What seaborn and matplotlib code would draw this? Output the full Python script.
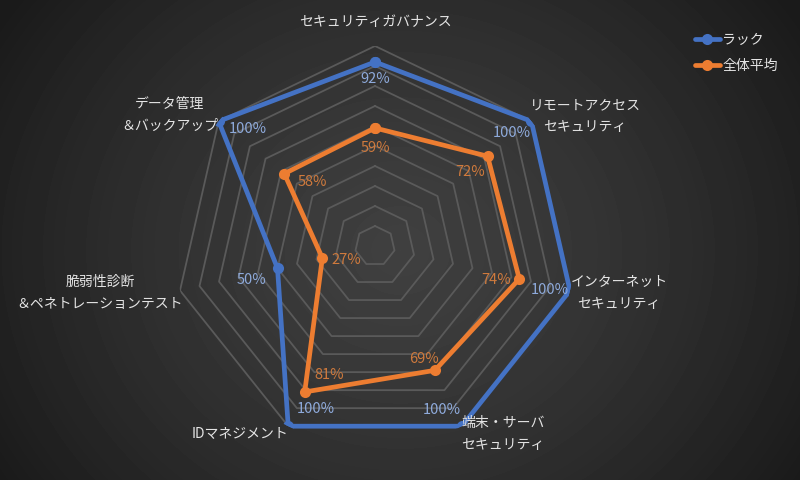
import numpy as np
import pandas as pd
import matplotlib
matplotlib.use("Agg")
import matplotlib.pyplot as plt
from matplotlib.lines import Line2D
import seaborn as sns

# ---- data ----
categories = [
    "セキュリティガバナンス",
    "リモートアクセス\nセキュリティ",
    "インターネット\nセキュリティ",
    "端末・サーバ\nセキュリティ",
    "IDマネジメント",
    "脆弱性診断\n＆ペネトレーションテスト",
    "データ管理\n＆バックアップ",
]
series_names = ["ラック", "全体平均"]
lac_values = [92, 100, 100, 100, 100, 50, 100]
avg_values = [59, 72, 74, 69, 81, 27, 58]
grid_levels = [10, 20, 30, 40, 50, 60, 70, 80, 90, 100]

# ---- style ----
BLUE = "#4472c4"
ORANGE = "#ed7d31"
BLUE_LABEL = "#8eaadb"
ORANGE_LABEL = "#cf7a3d"
TEXT = "#e4e4e4"
GRID = "#5a5a5a"

W, H = 800, 480
CX, CY, R = 375, 246, 200  # radar centre / radius in pixels

# value label offsets (pixels, right / up)
lac_offsets = [(0, -17), (-20, -12), (-20, 1), (-20, 16), (28, 17), (-26, -12), (29, -8)]
avg_offsets = [(0, -20), (-17, -16), (-23, -1), (-11, 11), (24, 17), (24, -2), (28, -8)]
# category label centres (pixels from top-left)
cat_pos = [(375, 22), (585, 116), (619, 293), (503, 434), (240, 434), (100, 293), (170, 115)]


def draw_background(fig):
    bg = fig.add_axes([0, 0, 1, 1], zorder=-10)
    yy, xx = np.mgrid[0:H, 0:W]
    d = np.sqrt(((xx - 400) / 470.0) ** 2 + ((yy - 250) / 420.0) ** 2)
    d = np.clip(d, 0, 1)
    val = 0.25 - 0.145 * d ** 1.3
    bg.imshow(val, cmap="gray", vmin=0, vmax=1, aspect="auto", interpolation="bilinear")
    bg.axis("off")


def main():
    sns.set_style("dark")
    plt.rcParams["font.family"] = ["Noto Sans CJK JP", "DejaVu Sans"]

    fig = plt.figure(figsize=(W / 100, H / 100), dpi=100)
    draw_background(fig)

    ax = fig.add_axes([(CX - R) / W, (H - CY - R) / H, 2 * R / W, 2 * R / H], projection="polar")
    ax.set_facecolor("none")
    ax.set_theta_zero_location("N")
    ax.set_theta_direction(-1)
    ax.set_ylim(0, 100)
    ax.grid(False)
    ax.spines["polar"].set_visible(False)
    ax.set_xticks([])
    ax.set_yticks([])

    n = len(categories)
    theta = np.linspace(0, 2 * np.pi, n, endpoint=False)
    theta_closed = np.append(theta, 2 * np.pi)

    for level in grid_levels:
        ax.plot(theta_closed, [level] * (n + 1), color=GRID, lw=1.3, zorder=1)

    df = pd.DataFrame({
        "theta": np.concatenate([theta_closed, theta_closed]),
        "value": lac_values + lac_values[:1] + avg_values + avg_values[:1],
        "series": [series_names[0]] * (n + 1) + [series_names[1]] * (n + 1),
    })
    sns.lineplot(data=df, x="theta", y="value", hue="series", sort=False, estimator=None,
                 palette=[BLUE, ORANGE], marker="o", markersize=8, markeredgewidth=0,
                 linewidth=3.4, legend=False, ax=ax, zorder=3)
    ax.set_xlabel("")
    ax.set_ylabel("")

    px = 72 / 100
    for vals, offs, col in [(lac_values, lac_offsets, BLUE_LABEL), (avg_values, avg_offsets, ORANGE_LABEL)]:
        for t, v, (dx, dy) in zip(theta, vals, offs):
            ax.annotate(f"{v}%", (t, v), xytext=(dx * px, dy * px), textcoords="offset points",
                        ha="center", va="center", color=col, fontsize=10.5, zorder=5)

    for label, (x, y) in zip(categories, cat_pos):
        fig.text(x / W, 1 - y / H, label, ha="center", va="center", color=TEXT,
                 fontsize=10, linespacing=1.75, multialignment="center")

    handles = [Line2D([], [], color=c, lw=3.4, marker="o", markersize=8, markeredgewidth=0)
               for c in (BLUE, ORANGE)]
    leg = fig.legend(handles, series_names, loc="upper left", bbox_to_anchor=(682 / W, 1 - 20 / H),
                     frameon=False, fontsize=10, handlelength=1.8, handletextpad=0.2,
                     labelspacing=0.9)
    for t in leg.get_texts():
        t.set_color(TEXT)

    fig.savefig("out.png", dpi=100)
    plt.close(fig)


if __name__ == "__main__":
    main()
